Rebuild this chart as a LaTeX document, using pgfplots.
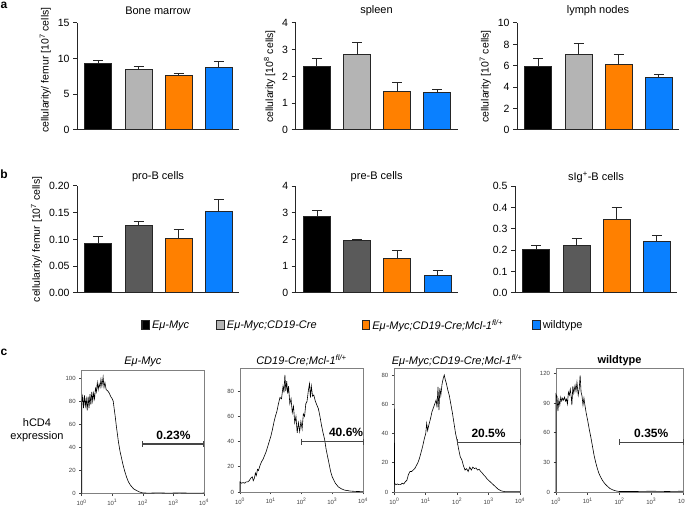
\documentclass[border=0pt]{standalone}
\usepackage{fontspec}
\setmainfont{Liberation Sans}
\usepackage{pgfplots}
\pgfplotsset{compat=1.18}
\definecolor{cOr}{HTML}{FF8000}
\definecolor{cBl}{HTML}{0A80FF}
\definecolor{cLg}{HTML}{B4B4B4}
\definecolor{cDg}{HTML}{5A5A5A}
\definecolor{cEdge}{HTML}{262626}
\definecolor{cGate}{HTML}{454545}
\tikzset{glabel/.style={font=\bfseries\fontsize{12}{14}\selectfont, anchor=base, yshift=5pt}}
\pgfplotsset{
  barax/.style={
    scale only axis, width=162pt, height=107pt,
    xmin=0.47, xmax=4.5, ymin=0,
    axis x line*=bottom, axis y line*=left,
    xtick=\empty,
    ytick pos=left, tick align=outside, major tick length=4pt,
    axis line style={line width=1pt, color=cEdge},
    y tick style={line width=1pt, color=cEdge},
    tick label style={font=\fontsize{10.5}{12}\selectfont},
    /pgf/number format/assume math mode=true,
    scaled y ticks=false,
    ylabel style={font=\fontsize{10.5}{12}\selectfont},
    title style={font=\fontsize{11}{13}\selectfont, at={(0.5,1)}, anchor=center, yshift=6.4pt},
    clip=false,
  },
  mybar/.style={ybar, bar shift=0pt, bar width=27pt, draw=cEdge, line width=1pt, fill=#1, forget plot,
    error bars/.cd, y dir=plus, y explicit,
    error bar style={line width=1pt, color=cEdge},
    error mark options={rotate=90, mark size=5pt, line width=1pt, color=cEdge}},
  histax/.style={
    scale only axis, height=123.5pt,
    xmin=0, xmax=4, ymin=0,
    xtick={0,1,2,3,4},
    xticklabels={10\textsuperscript{0},10\textsuperscript{1},10\textsuperscript{2},10\textsuperscript{3},10\textsuperscript{4}},
    tick align=outside, xtick pos=bottom, ytick pos=left, major tick length=2.5pt,
    axis line style={line width=0.7pt, color=gray},
    tick style={line width=0.6pt, color=darkgray},
    tick label style={font=\fontsize{6}{7}\selectfont, color=black!75},
    /pgf/number format/assume math mode=true,
    title style={font=\fontsize{11}{13}\selectfont, at={(0.5,1)}, anchor=center, yshift=2pt},
    clip=false,
  },
  histline/.style={black, line width=0.6pt, mark=none},
  gate/.style={line width=1.3pt, cGate, mark=|, mark size=3pt, mark options={line width=1pt, cGate}},
  lgimg/.style={legend image code/.code={\draw[draw=cEdge, line width=1.2pt, fill=#1] (0pt,-4.5pt) rectangle (7.5pt,4.5pt);}},
}
\begin{document}
\begin{tikzpicture}
\useasboundingbox (0pt,0pt) rectangle (685pt,506pt);
\node[font=\bfseries\fontsize{12}{14}\selectfont] at (4pt,501pt) {a};
\node[font=\bfseries\fontsize{12}{14}\selectfont] at (4pt,332pt) {b};
\node[font=\bfseries\fontsize{12}{14}\selectfont] at (4pt,154pt) {c};

% ---------- row a ----------
\begin{axis}[barax, at={(77pt,376pt)}, anchor=south west, ymax=15, ytick={0,5,10,15},
  title={Bone marrow}, ylabel={cellularity/ femur [10\textsuperscript{7} cells]},
  ylabel style={at={(ticklabel cs:0.56)}}]
\addplot[mybar=black] coordinates {(1,9.3) +- (0,0.45)};
\addplot[mybar=cLg] coordinates {(2,8.5) +- (0,0.35)};
\addplot[mybar=cOr] coordinates {(3,7.6) +- (0,0.3)};
\addplot[mybar=cBl] coordinates {(4,8.75) +- (0,0.9)};
\end{axis}
\begin{axis}[barax, at={(295.5pt,376pt)}, anchor=south west, ymax=4, ytick={0,1,2,3,4},
  title={spleen}, ylabel={cellularity [10\textsuperscript{8} cells]}]
\addplot[mybar=black] coordinates {(1,2.36) +- (0,0.32)};
\addplot[mybar=cLg] coordinates {(2,2.81) +- (0,0.46)};
\addplot[mybar=cOr] coordinates {(3,1.44) +- (0,0.32)};
\addplot[mybar=cBl] coordinates {(4,1.42) +- (0,0.11)};
\end{axis}
\begin{axis}[barax, at={(517pt,376pt)}, anchor=south west, ymax=10, ytick={0,2,4,6,8,10},
  title={lymph nodes}, ylabel={cellularity [10\textsuperscript{7} cells]}]
\addplot[mybar=black] coordinates {(1,5.9) +- (0,0.8)};
\addplot[mybar=cLg] coordinates {(2,7.03) +- (0,1.05)};
\addplot[mybar=cOr] coordinates {(3,6.15) +- (0,0.9)};
\addplot[mybar=cBl] coordinates {(4,4.94) +- (0,0.28)};
\end{axis}

% ---------- row b ----------
\begin{axis}[barax, at={(77pt,213pt)}, anchor=south west, ymax=0.2, ytick={0,0.05,0.1,0.15,0.2},
  yticklabel style={/pgf/number format/.cd, fixed, fixed zerofill, precision=2},
  title={pro-B cells}, title style={yshift=-3.4pt}, ylabel={cellularity/ femur [10\textsuperscript{7} cells]}]
\addplot[mybar=black] coordinates {(1,0.092) +- (0,0.014)};
\addplot[mybar=cDg] coordinates {(2,0.127) +- (0,0.006)};
\addplot[mybar=cOr] coordinates {(3,0.102) +- (0,0.016)};
\addplot[mybar=cBl] coordinates {(4,0.153) +- (0,0.022)};
\end{axis}
\begin{axis}[barax, at={(295.7pt,213pt)}, anchor=south west, ymax=4, ytick={0,1,2,3,4},
  title={pre-B cells}, title style={yshift=-3.4pt},
  legend columns=4,
  legend style={at={(0.415,-0.3)}, anchor=center, draw=none, fill=none,
    font=\fontsize{11}{13}\selectfont, inner sep=0pt,
    /tikz/every odd column/.append style={xshift=2pt}},
  legend cell align=left]
\addplot[mybar=black] coordinates {(1,2.85) +- (0,0.24)};
\addplot[mybar=cDg] coordinates {(2,1.95) +- (0,0.04)};
\addplot[mybar=cOr] coordinates {(3,1.28) +- (0,0.3)};
\addplot[mybar=cBl] coordinates {(4,0.66) +- (0,0.18)};
\addlegendimage{lgimg=black}
\addlegendentry{\textit{Eμ-Myc}\hspace*{25pt}\mbox{}}
\addlegendimage{lgimg=cLg}
\addlegendentry{\textit{Eμ-Myc;CD19-Cre}\hspace*{43pt}\mbox{}}
\addlegendimage{lgimg=cOr}
\addlegendentry{\textit{Eμ-Myc;CD19-Cre;Mcl-1}\textsuperscript{\textit{fl/+}}\hspace*{27pt}\mbox{}}
\addlegendimage{lgimg=cBl}
\addlegendentry{wildtype}
\end{axis}
\begin{axis}[barax, at={(515pt,213pt)}, anchor=south west, ymax=0.5, ytick={0,0.1,0.2,0.3,0.4,0.5},
  yticklabel style={/pgf/number format/.cd, fixed, fixed zerofill, precision=1},
  title={sIg\textsuperscript{+}-B cells}, title style={yshift=-3.4pt}]
\addplot[mybar=black] coordinates {(1,0.205) +- (0,0.018)};
\addplot[mybar=cDg] coordinates {(2,0.22) +- (0,0.034)};
\addplot[mybar=cOr] coordinates {(3,0.343) +- (0,0.057)};
\addplot[mybar=cBl] coordinates {(4,0.242) +- (0,0.029)};
\end{axis}

% ---------- row c ----------
\node[align=center, font=\fontsize{11}{13}\selectfont] at (37pt,76pt) {hCD4\\expression};

\begin{axis}[histax, at={(81.7pt,12.5pt)}, anchor=south west, width=122.3pt, ymax=107, ytick={0,20,40,60,80,100},
  title={\textit{Eμ-Myc}}]
\addplot[histline] coordinates {(0,0)(0,78)(0.03,84)(0.06,74)(0.09,85)(0.12,76)(0.15,82)(0.18,72)(0.21,84)(0.24,74)(0.27,86)(0.3,77)(0.33,88)(0.36,80)(0.39,87)(0.42,82)(0.45,91)(0.48,88)(0.51,96)(0.54,90)(0.57,95)(0.6,92)(0.63,99)(0.66,93)(0.7,101)(0.73,92)(0.76,96)(0.8,90)(0.85,89)(0.9,87)(0.95,84)(1.0,82)(1.03,80)(1.07,72)(1.1,66)(1.13,59)(1.16,53)(1.2,45)(1.25,37)(1.3,31)(1.35,25)(1.41,19)(1.47,14)(1.53,10)(1.6,7)(1.7,4)(1.8,2.5)(1.9,1.2)(2.0,0.5)(2.2,0.3)(2.5,0.6)(2.8,0.3)(3.2,0.5)(3.6,0.3)(4,0.4)};
\addplot[gate] coordinates {(2,42.8)(4,42.8)};
\node[glabel] at (axis cs:3,42.8) {0.23\%};
\end{axis}

\begin{axis}[histax, at={(240pt,14pt)}, anchor=south west, width=123pt, ymax=98, ytick={0,20,40,60,80},
  title={\textit{CD19-Cre;Mcl-1}\textsuperscript{\textit{fl/+}}}]
\addplot[histline] coordinates {(0,0)(0,8)(0.05,7)(0.1,7.5)(0.15,7)(0.2,8)(0.25,8)(0.3,9)(0.35,11)(0.4,12)(0.43,9)(0.47,11)(0.5,15)(0.53,13)(0.57,18)(0.6,17)(0.65,21)(0.7,24)(0.75,26)(0.8,29)(0.85,32)(0.9,36)(0.95,40)(1.0,44)(1.05,49)(1.1,55)(1.15,60)(1.2,64)(1.25,70)(1.3,75)(1.35,74)(1.4,84)(1.43,79)(1.46,93)(1.49,80)(1.52,88)(1.55,78)(1.58,84)(1.62,70)(1.66,74)(1.7,63)(1.74,68)(1.78,55)(1.82,60)(1.86,47)(1.9,55)(1.94,48)(1.98,56)(2.02,50)(2.06,62)(2.1,60)(2.14,70)(2.18,72)(2.22,80)(2.26,86)(2.29,75)(2.32,84)(2.36,76)(2.4,77)(2.45,72)(2.5,69)(2.55,66)(2.6,60)(2.65,53)(2.7,47)(2.75,42)(2.8,34)(2.85,28)(2.9,22)(2.95,16)(3.0,12)(3.1,7)(3.2,4)(3.3,2.5)(3.4,1.5)(3.6,0.7)(3.8,0.4)(4,0.3)};
\addplot[gate] coordinates {(2,40)(4,40)};
\node[glabel] at (axis cs:3.45,40) {40.6\%};
\end{axis}

\begin{axis}[histax, at={(394.3pt,14pt)}, anchor=south west, width=125.7pt, ymax=84.5, ytick={0,20,40,60,80},
  title={\textit{Eμ-Myc;CD19-Cre;Mcl-1}\textsuperscript{\textit{fl/+}}}]
\addplot[histline] coordinates {(0,0)(0,57)(0.01,6)(0.05,5)(0.1,5.5)(0.15,5)(0.2,5)(0.25,6)(0.3,5.5)(0.35,7)(0.4,8)(0.45,12)(0.5,14)(0.55,14)(0.6,15)(0.65,16)(0.7,18)(0.75,20)(0.8,23)(0.85,27)(0.9,31)(0.95,36)(1.0,40)(1.03,47)(1.06,42)(1.1,46)(1.15,50)(1.2,55)(1.25,58)(1.3,61)(1.33,63)(1.36,58)(1.39,72)(1.42,56)(1.45,71)(1.48,66)(1.52,74)(1.56,78)(1.59,80)(1.62,77)(1.66,74)(1.7,70)(1.75,66)(1.8,60)(1.85,54)(1.9,47)(1.95,40)(2.0,35)(2.05,29)(2.1,24)(2.15,22)(2.2,18)(2.25,15)(2.3,16)(2.35,14)(2.4,17)(2.45,15)(2.5,17)(2.55,16)(2.6,16.5)(2.65,15)(2.7,15.5)(2.75,14)(2.8,13)(2.85,11.5)(2.9,10.5)(2.95,9)(3.0,8)(3.1,6)(3.2,4)(3.3,2)(3.4,0.8)(3.5,0.3)(4,0.2)};
\addplot[gate] coordinates {(2,34)(4,34)};
\node[glabel] at (axis cs:3,34) {20.5\%};
\end{axis}

\begin{axis}[histax, at={(556pt,14pt)}, anchor=south west, width=127pt, ymax=125, ytick={0,30,60,90,120},
  title={\textbf{wildtype}}]
\addplot[histline] coordinates {(0,0)(0,99)(0.03,97)(0.06,82)(0.09,93)(0.12,88)(0.15,96)(0.18,92)(0.21,95)(0.24,93)(0.27,96)(0.3,92)(0.33,94)(0.36,89)(0.39,101)(0.42,98)(0.45,104)(0.48,96)(0.5,88)(0.53,107)(0.56,100)(0.6,108)(0.63,102)(0.66,111)(0.7,98)(0.73,104)(0.76,118)(0.79,101)(0.82,97)(0.85,88)(0.88,95)(0.91,88)(0.95,80)(1.0,72)(1.05,63)(1.1,55)(1.15,46)(1.2,37)(1.25,30)(1.3,24)(1.35,19)(1.4,15.5)(1.45,12.5)(1.5,10)(1.55,8)(1.6,6.4)(1.7,3.5)(1.8,2)(1.9,1)(2.0,0.5)(2.5,0.5)(3,0.8)(3.5,0.5)(4,0.8)};
\addplot[gate] coordinates {(2,50.4)(4,50.4)};
\node[glabel] at (axis cs:3,50.4) {0.35\%};
\end{axis}
\end{tikzpicture}
\end{document}
